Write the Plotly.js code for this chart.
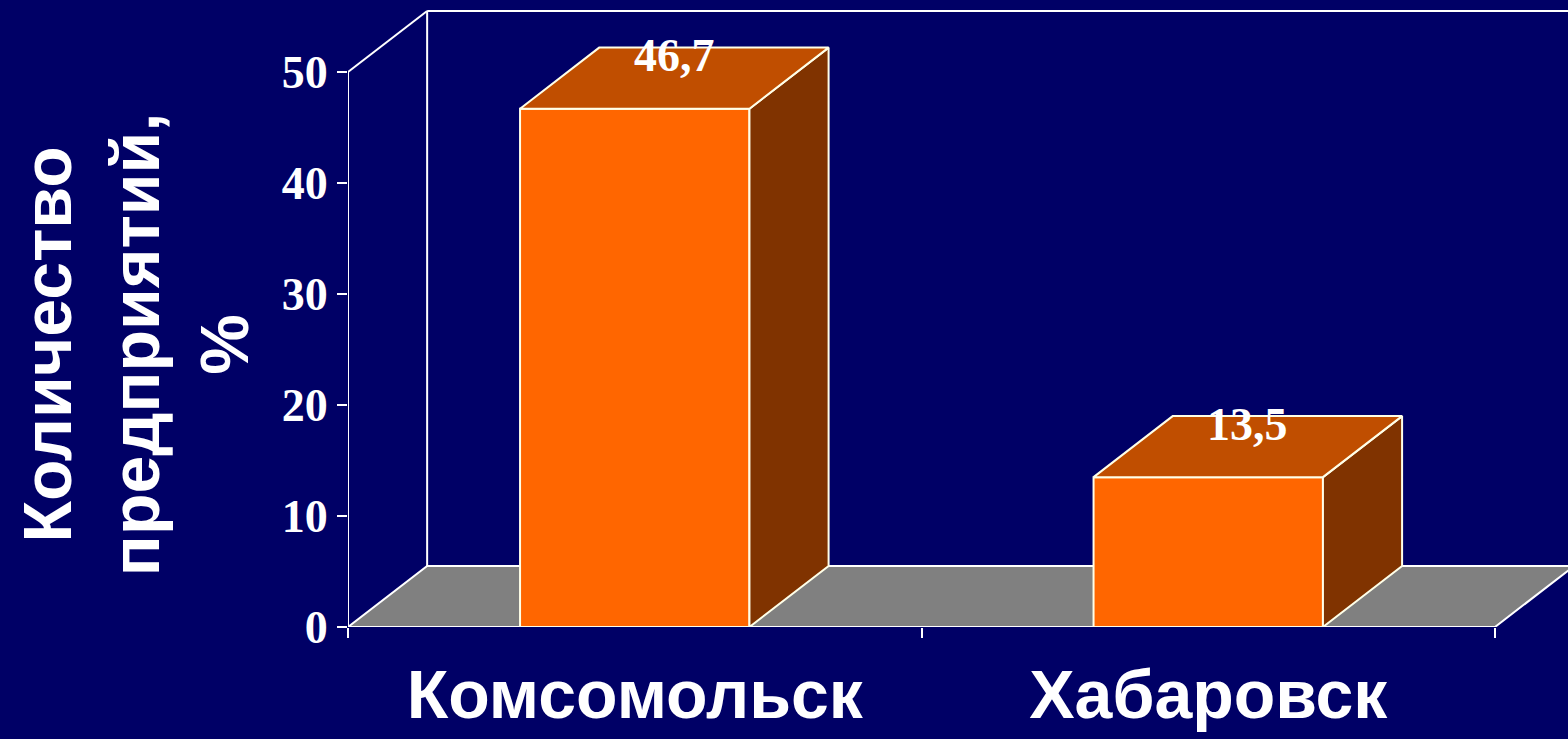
<!DOCTYPE html>
<html>
<head>
<meta charset="utf-8">
<script src="https://cdn.plot.ly/plotly-3.0.1.min.js"></script>
<style>
  html, body { margin: 0; padding: 0; background: #000066; }
  #chart { width: 1568px; height: 739px; }
</style>
</head>
<body>
<div id="chart"></div>
<script>
// ---- data ----
const categories = ['Комсомольск', 'Хабаровск'];
const values = [46.7, 13.5];
const yTickValues = [0, 10, 20, 30, 40, 50];
const yTitleLines = ['Количество', 'предприятий,', '%'];

// ---- styling / 3D geometry (in axis units) ----
const BG = '#000066';
const FRONT = '#FF6600';
const TOP = '#C04E00';
const SIDE = '#803300';
const FLOOR = '#808080';
const EDGE = '#FFFFE8';
const DX = 0.138;   // depth offset along x
const DY = 5.5;     // depth offset along y
const W = 0.4;      // bar width
const X_MIN = -0.5, X_AXIS_END = 1.5, X_MAX = 1.6273;
const Y_MAX = 55.95;
const Y_TOP = yTickValues[yTickValues.length - 1];
const SANS = 'Liberation Sans, Arial, sans-serif';
const SERIF = 'Liberation Serif, Times New Roman, serif';

const xs = categories.map((c, i) => i);
const traces = [];

// side and top faces of each 3D bar, derived from the data values
xs.forEach((x, i) => {
  const v = values[i];
  const l = x - W / 2, r = x + W / 2;
  traces.push({
    type: 'scatter', mode: 'lines', fill: 'toself',
    x: [r, r + DX, r + DX, r, r],
    y: [0, DY, v + DY, v, 0],
    fillcolor: SIDE, line: { color: EDGE, width: 2 },
    hoverinfo: 'skip', showlegend: false
  });
  traces.push({
    type: 'scatter', mode: 'lines', fill: 'toself',
    x: [l, r, r + DX, l + DX, l],
    y: [v, v, v + DY, v + DY, v],
    fillcolor: TOP, line: { color: EDGE, width: 2 },
    hoverinfo: 'skip', showlegend: false
  });
});

// front faces
traces.push({
  type: 'bar', x: xs, y: values, width: W,
  marker: { color: FRONT, line: { color: EDGE, width: 2 } },
  hoverinfo: 'skip', showlegend: false
});

// dummy trace to carry the tick-mark axis
traces.push({ type: 'scatter', x: [null], y: [null], xaxis: 'x2', yaxis: 'y',
  hoverinfo: 'skip', showlegend: false });

const shapes = [
  // floor
  { type: 'path', xref: 'x', yref: 'y', layer: 'below',
    path: `M ${X_MIN},0 L ${X_MIN + DX},${DY} L ${X_AXIS_END + DX},${DY} L ${X_AXIS_END},0 Z`,
    fillcolor: FLOOR, line: { color: '#FFFFFF', width: 2 } },
  // back wall left edge
  { type: 'line', xref: 'x', yref: 'y', layer: 'below',
    x0: X_MIN + DX, y0: DY, x1: X_MIN + DX, y1: Y_TOP + DY,
    line: { color: '#FFFFFF', width: 2 } },
  // back wall top edge
  { type: 'line', xref: 'x', yref: 'y', layer: 'below',
    x0: X_MIN + DX, y0: Y_TOP + DY, x1: X_MAX + 0.05, y1: Y_TOP + DY,
    line: { color: '#FFFFFF', width: 2 } },
  // side wall top diagonal
  { type: 'line', xref: 'x', yref: 'y', layer: 'below',
    x0: X_MIN, y0: Y_TOP, x1: X_MIN + DX, y1: Y_TOP + DY,
    line: { color: '#FFFFFF', width: 2 } },
  // value axis line
  { type: 'line', xref: 'x', yref: 'y', layer: 'below',
    x0: X_MIN, y0: 0, x1: X_MIN, y1: Y_TOP,
    line: { color: '#FFFFFF', width: 2 } }
];

const annotations = xs.map((x, i) => ({
  x: x + DX / 2, y: values[i] + DY, xref: 'x', yref: 'y',
  text: values[i].toFixed(1).replace('.', ','),
  showarrow: false, xanchor: 'center', yanchor: 'middle', yshift: -8,
  font: { family: SERIF, size: 46, color: '#FFFFFF', weight: 'bold' }
}));

// value-axis title (rotated, three lines)
annotations.push({
  xref: 'paper', yref: 'paper', x: -0.1745, y: 0.454,
  xanchor: 'center', yanchor: 'middle', textangle: -90, showarrow: false,
  text: yTitleLines.join('<br>'), align: 'center',
  font: { family: SANS, size: 68, color: '#FFFFFF', weight: 'bold' }
});

const layout = {
  width: 1568, height: 739,
  paper_bgcolor: BG, plot_bgcolor: BG,
  margin: { l: 348, r: 0, t: 6, b: 112, pad: 0 },
  showlegend: false,
  xaxis: {
    range: [X_MIN, X_MAX], tickvals: xs, ticktext: categories,
    ticks: '', showline: false, showgrid: false, zeroline: false,
    tickfont: { family: SANS, size: 68, color: '#FFFFFF', weight: 'bold' },
    ticklabelstandoff: 22, fixedrange: true
  },
  xaxis2: {
    overlaying: 'x', anchor: 'y', side: 'bottom',
    range: [X_MIN, X_MAX], tickvals: [X_MIN, (X_MIN + X_AXIS_END) / 2, X_AXIS_END],
    ticks: 'outside', ticklen: 10, tickwidth: 2, tickcolor: '#FFFFFF',
    showticklabels: false, showline: false, showgrid: false, zeroline: false
  },
  yaxis: {
    range: [0, Y_MAX], tickvals: yTickValues,
    ticks: 'outside', ticklen: 10, tickwidth: 2, tickcolor: '#FFFFFF',
    showline: false, showgrid: false, zeroline: false,
    tickfont: { family: SERIF, size: 46, color: '#FFFFFF', weight: 'bold' },
    fixedrange: true
  },
  shapes: shapes,
  annotations: annotations
};

Plotly.newPlot('chart', traces, layout, { staticPlot: true });
</script>
</body>
</html>
